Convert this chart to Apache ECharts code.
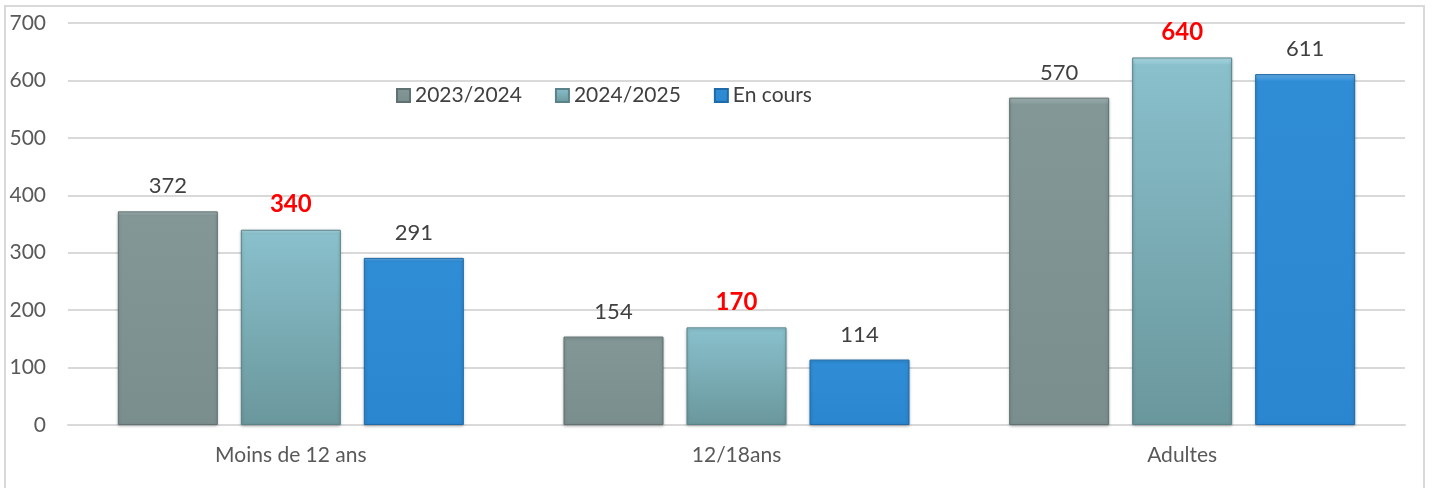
<!DOCTYPE html>
<html>
<head>
<meta charset="utf-8">
<script src="https://cdn.jsdelivr.net/npm/echarts@6/dist/echarts.min.js"></script>
<style>
  html, body { margin: 0; padding: 0; background: #fff; }
  #frame { position: absolute; left: 4px; top: 5px; width: 1421px; height: 490px; border: 2px solid #d9d9d9; box-sizing: border-box; }
  #chart { position: absolute; left: 0; top: 0; width: 1432px; height: 488px; }
</style>
</head>
<body>
<div id="frame"></div>
<div id="chart"></div>
<script>
// categories and series
var categories = ['Moins de 12 ans', '12/18ans', 'Adultes']
var seriesNames = ['2023/2024', '2024/2025', 'En cours']
var values2324 = [372, 154, 570]
var values2425 = [340, 170, 640]
var valuesEnCours = [291, 114, 611]

var chart = echarts.init(document.getElementById('chart'))

// degrade vertical pour imiter le biseau
function grad(top, mid, bottom) {
  return new echarts.graphic.LinearGradient(0, 0, 0, 1, [
    { offset: 0, color: top },
    { offset: 0.02, color: mid },
    { offset: 1, color: bottom }
  ])
}

var labelNormal = {
  show: true,
  position: 'top',
  distance: 14,
  color: '#404040',
  fontSize: 22,
  fontFamily: 'Lato'
}
var labelRed = {
  show: true,
  position: 'top',
  distance: 13,
  color: '#ff0000',
  fontSize: 24,
  fontWeight: 'bold',
  fontFamily: 'Lato'
}

var option = {
  animation: false,
  textStyle: { fontFamily: 'Lato' },
  grid: { left: 68, right: 27, top: 23, bottom: 63 },
  legend: {
    top: 80,
    left: 391,
    itemGap: 33,
    itemWidth: 13,
    itemHeight: 13,
    icon: 'rect',
    textStyle: { color: '#404040', fontSize: 21, fontFamily: 'Lato' },
    data: seriesNames
  },
  xAxis: {
    type: 'category',
    data: categories,
    axisLine: { lineStyle: { color: '#d9d9d9', width: 2 } },
    axisTick: { show: false },
    axisLabel: { color: '#595959', fontSize: 21, margin: 20 }
  },
  yAxis: {
    type: 'value',
    min: 0,
    max: 700,
    interval: 100,
    axisLine: { show: false },
    axisTick: { show: false },
    axisLabel: { color: '#595959', fontSize: 21, margin: 22 },
    splitLine: { lineStyle: { color: '#d9d9d9', width: 2 } }
  },
  series: [
    {
      name: seriesNames[0],
      type: 'bar',
      data: values2324,
      barWidth: 100,
      barGap: '23%',
      itemStyle: { color: grad('#a9baba', '#839797', '#7b8e8e'), borderColor: '#5f7171', borderWidth: 1, shadowColor: 'rgba(0,0,0,0.25)', shadowBlur: 3, shadowOffsetY: 1 },
      label: labelNormal
    },
    {
      name: seriesNames[1],
      type: 'bar',
      data: values2425,
      barWidth: 100,
      itemStyle: { color: grad('#b5e3ec', '#89c0cc', '#6a979c'), borderColor: '#5a8289', borderWidth: 1, shadowColor: 'rgba(0,0,0,0.25)', shadowBlur: 3, shadowOffsetY: 1 },
      label: labelRed
    },
    {
      name: seriesNames[2],
      type: 'bar',
      data: valuesEnCours,
      barWidth: 100,
      itemStyle: { color: grad('#6ab4ec', '#2f8dd6', '#2a86cf'), borderColor: '#1f6aa8', borderWidth: 1, shadowColor: 'rgba(0,0,0,0.25)', shadowBlur: 3, shadowOffsetY: 1 },
      label: labelNormal
    }
  ]
}
chart.setOption(option)
</script>
</body>
</html>
